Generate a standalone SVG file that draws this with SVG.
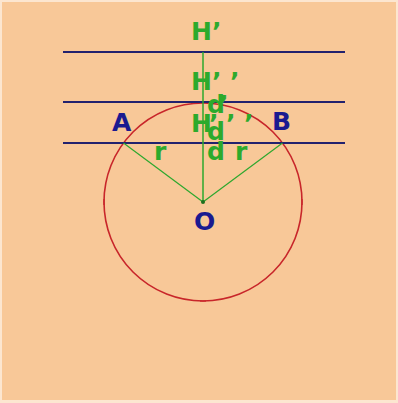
<svg xmlns="http://www.w3.org/2000/svg" width="398" height="403" viewBox="0 0 398 403">
<style>
.bg{fill:#F8C898}
.hl{stroke:#22226E;stroke-width:1.8;fill:none}
.gl{stroke:#2EA82E;stroke-width:1.2;fill:none}
.vl{stroke:#2EA82E;stroke-width:1.5;fill:none}
.circ{stroke:#C8262A;stroke-width:1.6;fill:none}
.tick{stroke:#C8262A;stroke-width:1.2}
text{font-family:"DejaVu Sans","Liberation Sans",sans-serif;font-weight:bold;font-size:25px}
.g{fill:#2CAA2C}
.b{fill:#1A1A90}
</style>
<rect x="0" y="0" width="398" height="403" fill="#FCE6D0"/>
<rect class="bg" x="2" y="2" width="394" height="398"/>
<g id="circle">
<circle class="circ" cx="203" cy="202" r="99"/>
<line class="tick" x1="104" y1="199" x2="104" y2="205"/>
<line class="tick" x1="302" y1="199" x2="302" y2="205"/>
<line class="tick" x1="200" y1="301" x2="206" y2="301"/>
</g>
<g id="lines">
<line class="hl" x1="63" y1="52" x2="345" y2="52"/>
<line class="hl" x1="63" y1="102" x2="345" y2="102"/>
<line class="hl" x1="63" y1="143" x2="345" y2="143"/>
</g>
<g id="connectors">
<line class="vl" x1="203" y1="52" x2="203" y2="202"/>
<line class="gl" x1="123.5" y1="143" x2="203" y2="202"/>
<line class="gl" x1="282.5" y1="143" x2="203" y2="202"/>
<circle cx="203" cy="202" r="2" fill="#1E6E1E"/>
</g>
<g id="labels">
<text class="g" x="191 212" y="40">H’</text>
<text class="g" x="191 212 230" y="90">H’’</text>
<text class="g" x="207 219" y="113">d’</text>
<text class="g" x="191 209 226 244" y="132">H’’’</text>
<text class="g" x="207" y="140">d</text>
<text class="g" x="207" y="160">d</text>
<text class="g" x="154" y="160">r</text>
<text class="g" x="235" y="160">r</text>
<text class="b" x="112" y="131">A</text>
<text class="b" x="272" y="130">B</text>
<text class="b" x="194" y="230">O</text>
</g>
</svg>
